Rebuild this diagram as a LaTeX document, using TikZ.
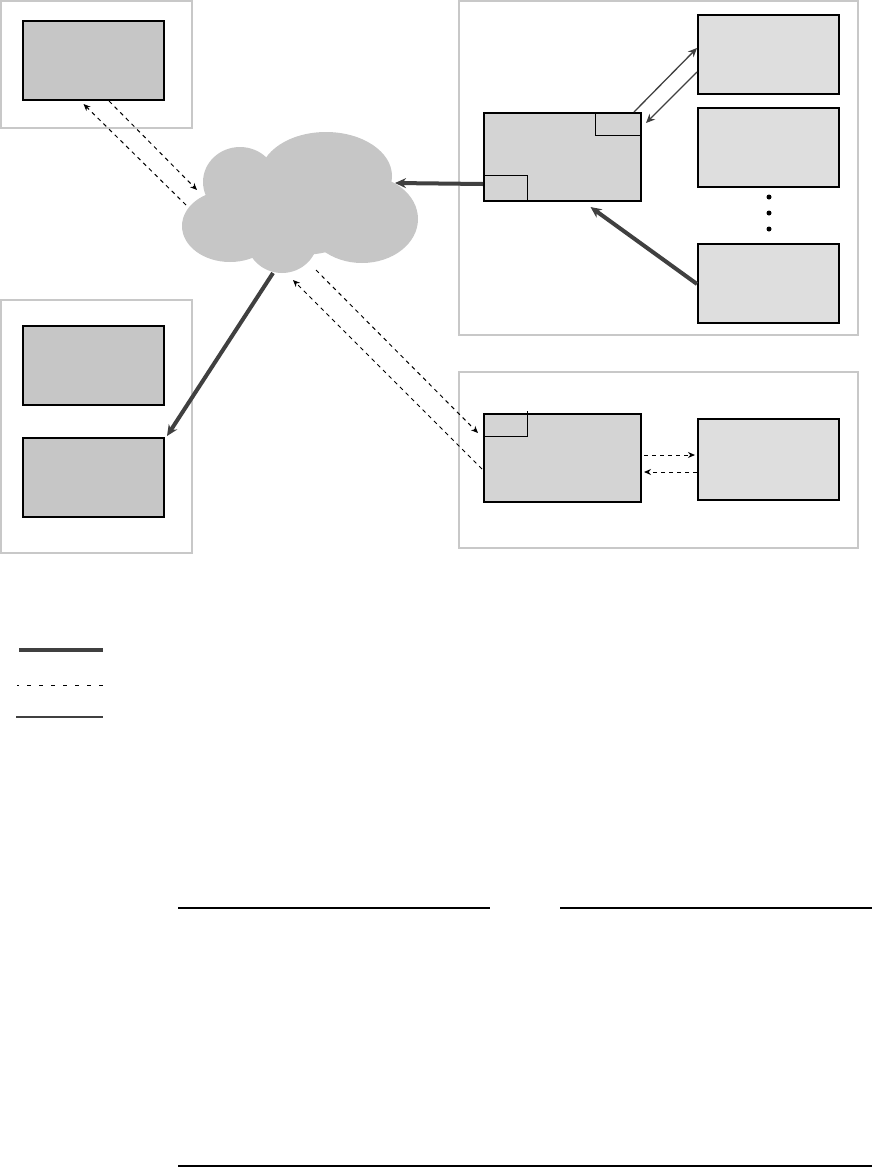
\documentclass[tikz,border=0pt]{standalone}
\usetikzlibrary{arrows.meta}
\definecolor{framegray}{RGB}{200,200,200}
\definecolor{hostgray}{RGB}{198,198,198}
\definecolor{srvgray}{RGB}{212,212,212}
\definecolor{poolgray}{RGB}{222,222,222}
\definecolor{linkgray}{RGB}{64,64,64}
\begin{document}
\begin{tikzpicture}[x=1pt,y=-1pt,
	frame/.style={draw=framegray,line width=2pt},
	hostbox/.style={draw,line width=2pt,fill=hostgray,anchor=north west,inner sep=0pt,minimum width=141pt,minimum height=79pt},
	srvbox/.style={hostbox,fill=srvgray,minimum width=157pt,minimum height=88pt},
	poolbox/.style={hostbox,fill=poolgray},
	boldlink/.style={draw=linkgray,line width=4pt,-{Stealth[length=11pt,width=10pt]}},
	thinlink/.style={draw=linkgray,line width=1.3pt,-{Stealth[length=9pt,width=8pt]}},
	dashlink/.style={draw,line width=1pt,dash pattern=on 4pt off 4pt,-{Stealth[length=7pt,width=6pt]}}]
	\useasboundingbox (0,0) rectangle (872,1168);
	
	% frames
	\draw[frame] (1,1) rectangle (192,128);
	\draw[frame] (1,300) rectangle (192,553);
	\draw[frame] (459,1) rectangle (858,335);
	\draw[frame] (459,372) rectangle (858,548);
	
	% cloud
	\begin{scope}[fill=hostgray]
		\fill (240,182) ellipse (37 and 35);
		\fill (326,176) ellipse (66 and 44);
		\fill (230,226) ellipse (48 and 36);
		\fill (362,219) ellipse (56 and 44);
		\fill (282,238) ellipse (36 and 35);
		\fill (300,215) ellipse (70 and 40);
	\end{scope}
	\coordinate (cl-e) at (395,183);
	\coordinate (cl-nw) at (186,205);
	\coordinate (cl-w) at (197,190);
	\coordinate (cl-s) at (273,273);
	\coordinate (cl-se) at (316,270);
	\coordinate (cl-sw) at (293,280);
	
	% hosts
	\node[hostbox] (h1) at (22,20) {};
	\node[hostbox] (h2) at (22,325) {};
	\node[hostbox] (h3) at (22,437) {};
	
	% server side
	\node[srvbox] (srv) at (483,112) {};
	\draw[line width=1pt] (595,112) |- (640,135);
	\draw[line width=1pt] (483,175) -| (527,200);
	\node[poolbox] (r1) at (697,14) {};
	\node[poolbox] (r2) at (697,107) {};
	\node[poolbox] (r3) at (697,243) {};
	\foreach \y in {197,213,229}
		\fill (769,\y) circle (2.5);
	
	\node[srvbox] (gw) at (483,413) {};
	\draw[line width=1pt] (483,436) -| (527,411);
	\node[poolbox,minimum height=81pt] (dv) at (697,418) {};
	
	% links
	\draw[boldlink] ([yshift=-27pt]srv.west) -- (cl-e);
	\draw[boldlink] ([yshift=-0.5pt]r3.west) -- ([xshift=28pt,yshift=-5pt]srv.south);
	\draw[boldlink] (cl-s) -- ([xshift=2pt,yshift=1pt]h3.north east);
	\draw[thinlink] ([xshift=-8pt]srv.north east) -- ([yshift=6.5pt]r1.west);
	\draw[thinlink] ([yshift=-17.5pt]r1.west) -- ([xshift=4pt,yshift=-11pt]srv.north east);
	\draw[dashlink] (cl-nw) -- ([xshift=-10pt,yshift=-3pt]h1.south);
	\draw[dashlink] ([xshift=15.5pt]h1.south) -- (cl-w);
	\draw[dashlink] (cl-se) -- ([xshift=-5pt,yshift=25pt]gw.west);
	\draw[dashlink] ([xshift=-1pt,yshift=-11pt]gw.west) -- (cl-sw);
	\draw[dashlink] ([xshift=2pt,yshift=3pt]gw.east) -- ([xshift=-2pt,yshift=4.5pt]dv.west);
	\draw[dashlink] ([yshift=-12.5pt]dv.west) -- ([xshift=2pt,yshift=-14pt]gw.east);
	
	% legend
	\draw[linkgray,line width=4pt] (19,650) -- (103,650);
	\draw[line width=1pt,dash pattern=on 4pt off 8pt,dash phase=2pt] (17,685) -- (103,685);
	\draw[linkgray,line width=2pt] (16,717) -- (103,717);
	
	% table rules
	\draw[line width=1.3pt] (178,908) -- (490,908);
	\draw[line width=1.3pt] (560,908) -- (872,908);
	\draw[line width=1.3pt] (178,1166) -- (872,1166);
\end{tikzpicture}
\end{document}
